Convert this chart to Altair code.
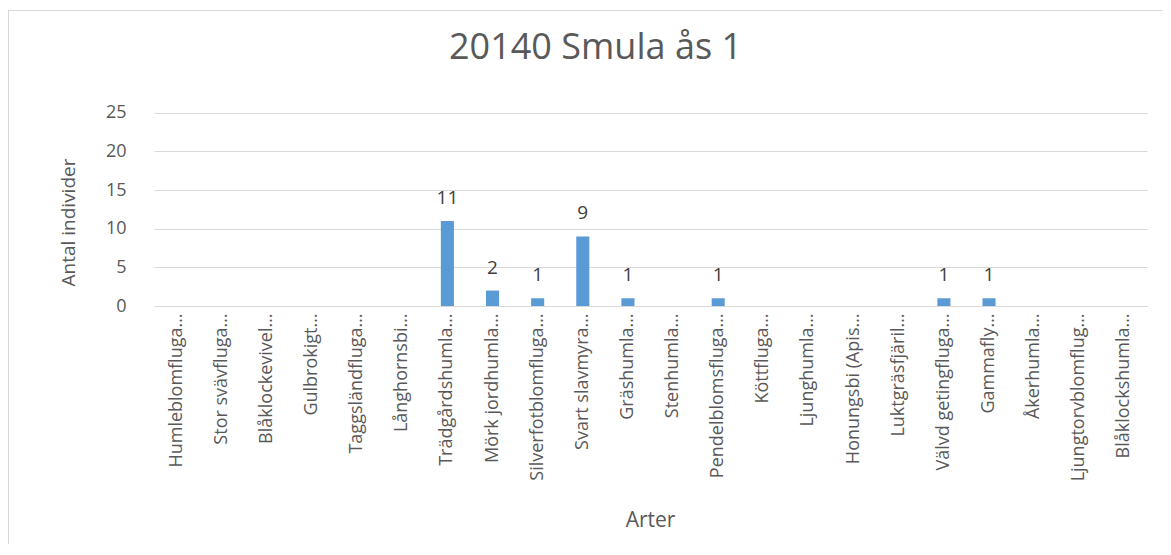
import altair as alt
import pandas as pd

categories = [
    "Humleblomfluga…", "Stor svävfluga…", "Blåklockevivel…", "Gulbrokigt…",
    "Taggsländfluga…", "Långhornsbi…", "Trädgårdshumla…", "Mörk jordhumla…",
    "Silverfotblomfluga…", "Svart slavmyra…", "Gräshumla…", "Stenhumla…",
    "Pendelblomsfluga…", "Köttfluga…", "Ljunghumla…", "Honungsbi (Apis…",
    "Luktgräsfjäril…", "Välvd getingfluga…", "Gammafly…", "Åkerhumla…",
    "Ljungtorvblomflug…", "Blåklockshumla…",
]
values = [0, 0, 0, 0, 0, 0, 11, 2, 1, 9, 1, 0, 1, 0, 0, 0, 0, 1, 1, 0, 0, 0]
y_ticks = [0, 5, 10, 15, 20, 25]

df = pd.DataFrame({"Arter": categories, "Antal": values})

TEXT = "#595959"
GRID = "#D9D9D9"
FONT = "Open Sans"

x_enc = alt.X(
    "Arter:N",
    sort=categories,
    scale=alt.Scale(paddingInner=0.71, paddingOuter=0.355),
    axis=alt.Axis(
        title="Arter",
        titleFont=FONT,
        titleFontSize=21,
        titleFontWeight="normal",
        titleColor=TEXT,
        titleX=496,
        titleY=214,
        titleBaseline="middle",
        titleAlign="center",
        labelAngle=270,
        labelFont=FONT,
        labelFontSize=18,
        labelColor=TEXT,
        labelPadding=7,
        labelLimit=400,
        ticks=False,
        domainColor=GRID,
        domainWidth=1,
    ),
)

y_enc = alt.Y(
    "Antal:Q",
    scale=alt.Scale(domain=[0, 25]),
    axis=alt.Axis(
        title="Antal individer",
        values=y_ticks,
        titleFont=FONT,
        titleFontSize=19,
        titleFontWeight="normal",
        titleColor=TEXT,
        titleAngle=270,
        titleX=-86,
        titleY=117,
        titleBaseline="middle",
        titleAlign="center",
        labelFont=FONT,
        labelFontSize=18,
        labelColor=TEXT,
        labelPadding=28,
        ticks=False,
        domain=False,
        gridColor=GRID,
        gridWidth=1,
    ),
)

bars = alt.Chart(df).mark_bar(color="#5B9BD5").encode(x=x_enc, y=y_enc)

labels = (
    alt.Chart(df)
    .transform_filter("datum.Antal > 0")
    .mark_text(font=FONT, fontSize=19, color="#404040", baseline="alphabetic", dy=-17)
    .encode(x=alt.X("Arter:N", sort=categories), y=alt.Y("Antal:Q"), text=alt.Text("Antal:Q"))
)

border_src = alt.Data(values=[{"b": 1}])
top_border = alt.Chart(border_src).mark_rule(color=GRID, strokeWidth=1).encode(
    x=alt.value(-146), x2=alt.value(1200), y=alt.value(-94.5)
)
left_border = alt.Chart(border_src).mark_rule(color=GRID, strokeWidth=1).encode(
    x=alt.value(-145.5), y=alt.value(-94.5), y2=alt.value(500)
)

chart = (
    alt.layer(top_border, left_border, bars, labels)
    .properties(
        width=993,
        height=201,
        padding={"left": 146, "top": 97, "right": 16, "bottom": 238},
        autosize=alt.AutoSizeParams(type="none"),
        title=alt.TitleParams(
            "20140 Smula ås 1",
            font=FONT,
            fontSize=36,
            fontWeight="normal",
            color=TEXT,
            anchor="middle",
            baseline="alphabetic",
            dx=-55,
            offset=-85,
        ),
        background="white",
    )
    .configure_view(stroke=None)
)

chart.save("out.html", embed_options={"renderer": "svg", "actions": False})
